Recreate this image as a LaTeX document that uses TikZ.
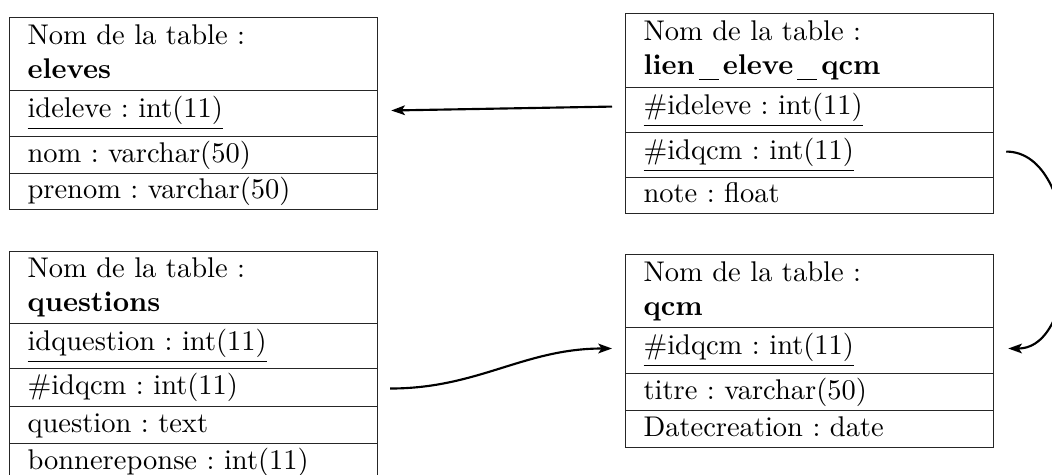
\documentclass[tikz,border=0pt]{standalone}
\usetikzlibrary{arrows.meta}
\frenchspacing
\newcommand\usc{\kern1.4pt\rule[-1.9pt]{7pt}{0.6pt}\kern1.4pt}
\tikzset{
  cell/.style={draw=black!85, line width=0.4pt, anchor=north west,
    minimum width=129.2pt, text width=116.6pt, inner xsep=6.3pt, inner ysep=0pt,
    align=left},
  plain/.style={cell, text height=7.5pt, text depth=2.5pt},
  keyrow/.style={cell, text height=7.5pt, text depth=4.5pt},
  head/.style={cell},
  conn/.style={line width=0.75pt, -{Stealth[length=4.8pt,width=3.4pt,inset=1.1pt]}},
}
\begin{document}
\begin{tikzpicture}[x=0.351pt,y=-0.351pt]
\useasboundingbox (0,0) rectangle (1052,475);
\clip (0,0) rectangle (1052,475);
% eleves
\node[head, minimum height=25.6pt] (el-h) at (9,17) {Nom de la table :\\\textbf{eleves}\vphantom{q}};
\node[keyrow, minimum height=16.1pt] (el-id) at (9,90) {\underline{ideleve : int(11)}};
\node[plain, minimum height=13.0pt] (el-nom) at (9,136) {nom : varchar(50)};
\node[plain, minimum height=12.6pt] (el-pre) at (9,173) {prenom : varchar(50)};
% lien_eleve_qcm
\node[head, minimum height=26.0pt] (li-h) at (625,13) {Nom de la table :\\\textbf{lien\usc eleve\usc qcm}\vphantom{q}};
\node[keyrow, minimum height=15.8pt] (li-id) at (625,87) {\underline{\#ideleve : int(11)}};
\node[keyrow, minimum height=15.8pt] (li-qcm) at (625,132) {\underline{\#idqcm : int(11)}};
\node[plain, minimum height=12.6pt] (li-note) at (625,177) {note : float};
% questions
\node[head, minimum height=25.3pt] (qu-h) at (9,251) {Nom de la table :\\\textbf{questions}\vphantom{q}};
\node[keyrow, minimum height=15.8pt] (qu-id) at (9,323) {\underline{idquestion : int(11)}};
\node[plain, minimum height=13.3pt] (qu-qcm) at (9,368) {\#idqcm : int(11)};
\node[plain, minimum height=13.0pt] (qu-q) at (9,406) {question : text};
\node[plain, minimum height=13.0pt] (qu-br) at (9,443) {bonnereponse : int(11)};
% qcm
\node[head, minimum height=25.6pt] (qc-h) at (625,254) {Nom de la table :\\\textbf{qcm}\vphantom{q}};
\node[keyrow, minimum height=16.1pt] (qc-id) at (625,327) {\underline{\#idqcm : int(11)}};
\node[plain, minimum height=13.0pt] (qc-ti) at (625,373) {titre : varchar(50)};
\node[plain, minimum height=13.0pt] (qc-dt) at (625,410) {Datecreation : date};
% connectors
\draw[conn] ([shift={(-13,-3.5)}]li-id.west) -- ([shift={(13,-3)}]el-id.east);
\draw[conn] ([shift={(12,1)}]qu-qcm.east) to[out=0,in=180] ([shift={(-13,-2)}]qc-id.west);
\draw[conn] ([shift={(12,-3.5)}]li-qcm.east) to[out=0,in=0,distance=26.7pt] ([shift={(14,-2)}]qc-id.east);
\end{tikzpicture}
\end{document}
